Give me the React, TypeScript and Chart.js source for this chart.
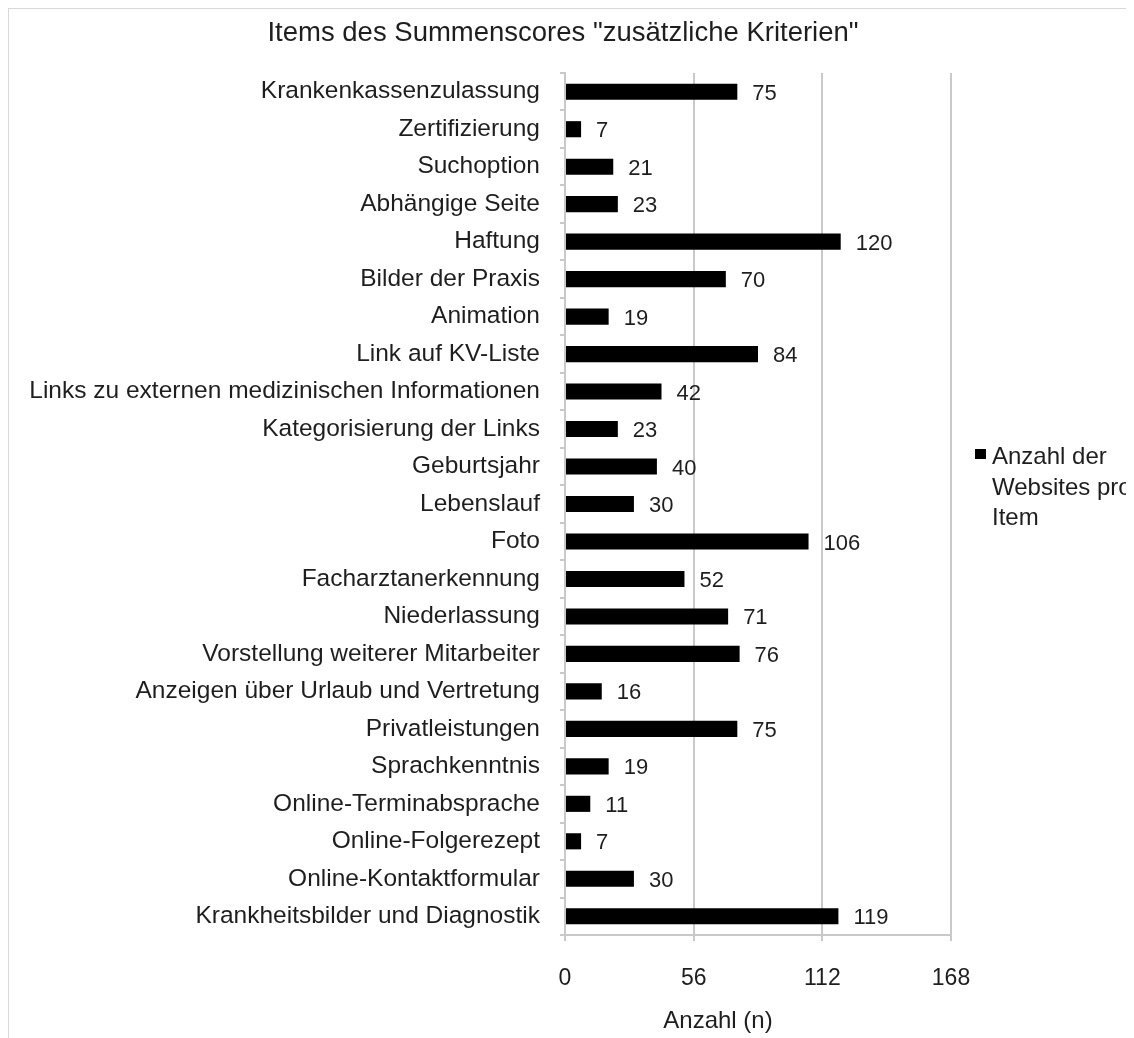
import React, { useEffect, useRef } from "react";
import { Chart, registerables } from "chart.js";

Chart.register(...registerables);

const chartTitle = 'Items des Summenscores "zusätzliche Kriterien"';
const axisTitle = "Anzahl (n)";
const seriesLabel = ["Anzahl der", "Websites pro", "Item"];

const categories = [
  "Krankenkassenzulassung",
  "Zertifizierung",
  "Suchoption",
  "Abhängige Seite",
  "Haftung",
  "Bilder der Praxis",
  "Animation",
  "Link auf KV-Liste",
  "Links zu externen medizinischen Informationen",
  "Kategorisierung der Links",
  "Geburtsjahr",
  "Lebenslauf",
  "Foto",
  "Facharztanerkennung",
  "Niederlassung",
  "Vorstellung weiterer Mitarbeiter",
  "Anzeigen über Urlaub und Vertretung",
  "Privatleistungen",
  "Sprachkenntnis",
  "Online-Terminabsprache",
  "Online-Folgerezept",
  "Online-Kontaktformular",
  "Krankheitsbilder und Diagnostik",
];

const websiteCounts = [
  75, 7, 21, 23, 120, 70, 19, 84, 42, 23, 40, 30, 106, 52, 71, 76, 16, 75, 19, 11, 7, 30, 119,
];

const xMin = 0;
const xMax = 168;
const xStep = 56;

const FONT = '"Liberation Sans", Arial, Helvetica, sans-serif';
const TEXT = "#1e1e1e";
const GRID = "#c9c9c9";

export default function App() {
  const ref = useRef<HTMLCanvasElement>(null);

  useEffect(() => {
    document.body.style.overflow = "hidden";
    const canvas = ref.current;
    if (!canvas) return;

    const valueLabels = {
      id: "valueLabels",
      afterDatasetsDraw(chart: any) {
        const { ctx } = chart;
        const meta = chart.getDatasetMeta(0);
        ctx.save();
        ctx.font = `22px ${FONT}`;
        ctx.fillStyle = TEXT;
        ctx.textAlign = "left";
        ctx.textBaseline = "middle";
        meta.data.forEach((bar: any, i: number) => {
          ctx.fillText(String(websiteCounts[i]), bar.x + 15, bar.y + 2);
        });
        ctx.restore();
      },
    };

    const titlesAndLegend = {
      id: "titlesAndLegend",
      afterDraw(chart: any) {
        const { ctx, chartArea } = chart;
        ctx.save();
        // chart title
        ctx.font = `27.5px ${FONT}`;
        ctx.fillStyle = TEXT;
        ctx.textAlign = "center";
        ctx.textBaseline = "middle";
        ctx.fillText(chartTitle, 554, 24);
        // x-axis title
        ctx.font = `24px ${FONT}`;
        ctx.fillText(axisTitle, chartArea.left + 153, chartArea.bottom + 86);
        // side legend
        const x = chartArea.right + 24;
        const top = chartArea.top + 376;
        ctx.fillStyle = "#000";
        ctx.fillRect(x, top, 11, 10);
        ctx.font = `24px ${FONT}`;
        ctx.fillStyle = TEXT;
        ctx.textAlign = "left";
        ctx.textBaseline = "alphabetic";
        seriesLabel.forEach((t, i) => {
          ctx.fillText(t, x + 17, top + 15 + i * 30.5);
        });
        ctx.restore();
      },
    };

    const chart = new Chart(canvas, {
      type: "bar",
      data: {
        labels: categories,
        datasets: [
          {
            label: seriesLabel.join(" "),
            data: websiteCounts,
            backgroundColor: "#000000",
            borderWidth: 0,
            barPercentage: 0.43,
            categoryPercentage: 1,
          },
        ],
      },
      options: {
        indexAxis: "y",
        responsive: false,
        animation: false,
        layout: { padding: { left: 0, right: 198, top: 64, bottom: 12 } },
        plugins: {
          legend: { display: false },
          tooltip: { enabled: false },
          title: { display: false },
        },
        scales: {
          x: {
            type: "linear",
            min: xMin,
            max: xMax,
            ticks: {
              stepSize: xStep,
              color: TEXT,
              font: { family: FONT, size: 23 },
              padding: 24,
            },
            grid: {
              color: GRID,
              lineWidth: 2,
              drawOnChartArea: true,
              drawTicks: true,
              tickLength: 6,
            },
            border: { display: true, color: GRID, width: 2 },
            afterFit(scale: any) {
              scale.height = 92;
            },
          },
          y: {
            type: "category",
            ticks: {
              color: TEXT,
              font: { family: FONT, size: 24.5 },
              padding: 20,
              autoSkip: false,
            },
            grid: {
              color: GRID,
              lineWidth: 2,
              drawOnChartArea: false,
              drawTicks: true,
              tickLength: 5,
              offset: true,
            },
            border: { display: true, color: GRID, width: 2 },
            afterFit(scale: any) {
              scale.width = 556;
            },
          },
        },
      },
      plugins: [valueLabels, titlesAndLegend],
    });

    return () => chart.destroy();
  }, []);

  return (
    <div
      style={{
        width: 1140,
        height: 1040,
        border: "1px solid #d9d9d9",
        background: "#fff",
        overflow: "hidden",
      }}
    >
      <canvas ref={ref} width={1140} height={1030} style={{ display: "block", width: 1140, height: 1030 }} />
    </div>
  );
}
